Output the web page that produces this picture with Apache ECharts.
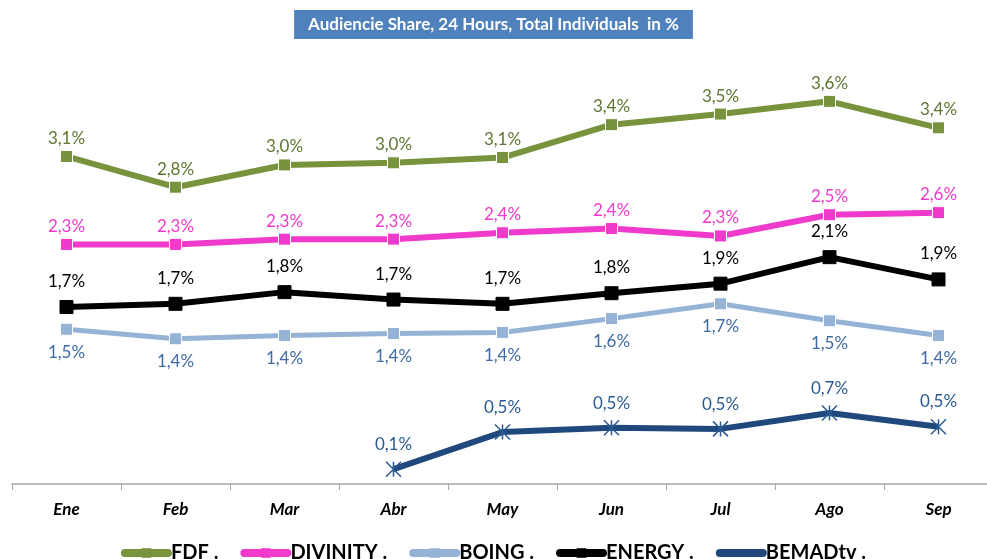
<!DOCTYPE html>
<html>
<head>
<meta charset="utf-8">
<script src="https://cdn.jsdelivr.net/npm/echarts@6/dist/echarts.min.js"></script>
<style>
  html, body { margin: 0; padding: 0; background: #fff; }
  #chart { width: 987px; height: 559px; }
</style>
</head>
<body>
<div id="chart"></div>
<script>
// months
const months = ['Ene', 'Feb', 'Mar', 'Abr', 'May', 'Jun', 'Jul', 'Ago', 'Sep'];

// audience share in %
const fdf = [3.09, 2.80, 3.01, 3.03, 3.08, 3.39, 3.49, 3.61, 3.36];
const divinity = [2.26, 2.26, 2.31, 2.31, 2.37, 2.41, 2.34, 2.54, 2.56];
const boing = [1.46, 1.37, 1.40, 1.42, 1.43, 1.56, 1.70, 1.54, 1.40];
const energy = [1.67, 1.70, 1.81, 1.74, 1.70, 1.80, 1.89, 2.14, 1.93];
const bemad = [null, null, null, 0.14, 0.49, 0.53, 0.52, 0.67, 0.54];

const font = 'Lato, "Open Sans", sans-serif';

function pct(p) {
  return p.value.toFixed(1).replace('.', ',') + '%';
}

const asterisk = 'path://M0,0L20,20M20,0L0,20M10,0L10,20';

function makeSeries(name, data, color, labelColor, opts) {
  return Object.assign({
    name: name,
    type: 'line',
    data: data,
    symbol: 'rect',
    symbolSize: 12,
    lineStyle: { width: 6, color: color },
    itemStyle: { color: color, borderColor: '#fff', borderWidth: 1 },
    label: {
      show: true,
      position: 'top',
      distance: 3,
      formatter: pct,
      color: labelColor,
      fontSize: 17,
      fontFamily: font
    },
    emphasis: { disabled: true },
    animation: false
  }, opts || {});
}

const myChart = echarts.init(document.getElementById('chart'));
const option = {
  title: {
    text: 'Audiencie Share, 24 Hours, Total Individuals  in %',
    left: 'center',
    top: 10,
    backgroundColor: '#4F81BD',
    padding: [6, 14, 6, 14],
    textStyle: {
      color: '#fff',
      fontSize: 17,
      fontWeight: 'bold',
      fontFamily: font
    }
  },
  legend: {
    bottom: -9,
    left: 'center',
    itemWidth: 43,
    itemHeight: 12,
    itemGap: 22,
    lineStyle: { width: 8, cap: 'round' },
    itemStyle: { borderWidth: 0 },
    textStyle: {
      color: '#000',
      fontSize: 20,
      fontWeight: 'bold',
      fontFamily: font,
      padding: [0, 0, 0, -2]
    },
    data: ['FDF .', 'DIVINITY .', 'BOING .', 'ENERGY .', 'BEMADtv .']
  },
  grid: { left: 12, width: 981, top: 60, height: 424, outerBoundsMode: 'none' },
  xAxis: {
    type: 'category',
    data: months,
    boundaryGap: true,
    axisLine: { lineStyle: { color: '#A6A6A6', width: 1.5 } },
    axisTick: { show: true, length: 6, lineStyle: { color: '#A6A6A6' } },
    axisLabel: {
      color: '#000',
      fontSize: 17,
      fontWeight: 'bold',
      fontStyle: 'italic',
      fontFamily: font,
      margin: 17
    }
  },
  yAxis: {
    type: 'value',
    min: 0,
    max: 4,
    show: false,
    splitLine: { show: false }
  },
  series: [
    makeSeries('FDF .', fdf, '#77933C', '#5F7530'),
    makeSeries('DIVINITY .', divinity, '#F03ACB', '#F03ACB'),
    makeSeries('BOING .', boing, '#95B3D7', '#3F6BA5', {
      lineStyle: { width: 5, color: '#95B3D7' },
      label: {
        show: true, position: 'bottom', distance: 8, formatter: pct,
        color: '#3F6BA5', fontSize: 17, fontFamily: font
      }
    }),
    makeSeries('ENERGY .', energy, '#000000', '#000000', {
      symbolSize: 13,
      itemStyle: { color: '#000', borderColor: '#000', borderWidth: 1 },
      label: {
        show: true, position: 'top', distance: 10, formatter: pct,
        color: '#000', fontSize: 17, fontFamily: font
      }
    }),
    makeSeries('BEMADtv .', bemad, '#1F497D', '#2B5A92', {
      symbol: asterisk,
      symbolSize: 15,
      itemStyle: { color: '#fff', borderColor: '#2B5A92', borderWidth: 1.5 },
      label: {
        show: true, position: 'top', distance: 8, formatter: pct,
        color: '#2B5A92', fontSize: 17, fontFamily: font
      }
    })
  ]
};
myChart.setOption(option);
</script>
</body>
</html>
